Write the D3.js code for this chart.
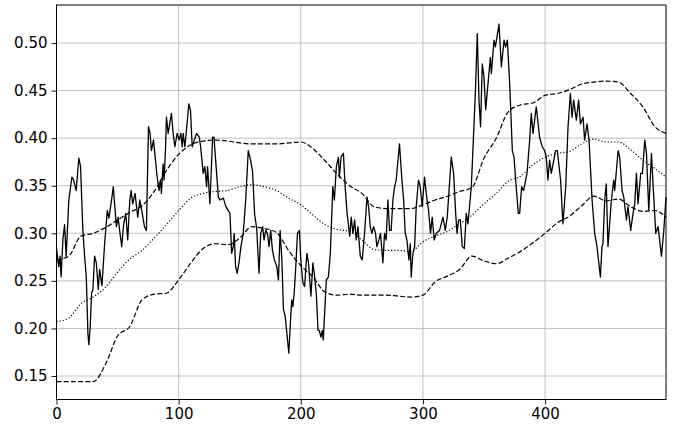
<!DOCTYPE html>
<html>
<head>
<meta charset="utf-8">
<script src="https://cdn.jsdelivr.net/npm/d3@7"></script>
<style>
  body { margin: 0; background: #fff; }
  svg { display: block; font-family: "DejaVu Sans", sans-serif; }
</style>
</head>
<body>
<div id="chart"></div>
<script>
const w = 680;
const h = 431;
const margin = { top: 5, right: 14, bottom: 31.5, left: 56.5 };

// noisy series: index positions and values
const seriesIdx = [
  0, 1.8, 2.9, 3.8, 5.2, 6.6, 7.9, 10.1, 12.6, 14.0, 16.1, 18.3, 19.7, 21.6, 23.0, 24.4, 25.7, 26.5, 27.6, 28.7,
  29.8, 31.2, 32.6, 34.2, 35.3, 37.2, 39.4, 41.6, 42.9, 45.4, 46.5, 49.0, 50.4, 51.7, 53.4, 55.0, 56.7, 58.3, 60.0, 61.1,
  62.4, 64.3, 66.5, 68.2, 69.8, 72.0, 73.6, 75.3, 76.6, 77.7, 79.4, 82.4, 84.0, 85.1, 85.9, 87.3, 88.1, 89.2, 90.0, 91.4,
  94.1, 95.5, 96.9, 98.8, 100.4, 101.8, 102.9, 103.7, 105.1, 108.4, 109.7, 111.1, 112.8, 114.7, 116.9, 118.0, 120.1, 121.5, 122.9, 123.7,
  125.6, 126.4, 127.8, 128.9, 131.1, 132.5, 133.8, 136.6, 138.7, 142.0, 143.4, 144.7, 145.5, 146.6, 148.0, 149.7, 151.0, 152.9, 154.9, 157.0,
  158.9, 160.5, 162.2, 163.9, 165.8, 167.2, 168.8, 169.9, 171.3, 172.7, 174.0, 175.4, 176.8, 178.4, 180.4, 181.7, 183.1, 184.5, 185.8, 187.2,
  188.6, 190.2, 191.6, 192.6, 193.5, 194.6, 195.9, 197.3, 198.9, 200.0, 201.7, 203.1, 205.0, 206.3, 208.3, 209.9, 211.3, 212.7, 214.1, 215.1,
  216.5, 217.6, 218.4, 220.9, 222.6, 224.2, 226.2, 227.5, 229.1, 230.8, 231.6, 233.0, 234.9, 236.3, 237.9, 240.1, 241.3, 242.7, 244.1, 245.4,
  246.8, 248.7, 250.3, 252.2, 254.2, 255.5, 256.9, 258.2, 259.6, 261.2, 262.3, 263.9, 265.3, 267.2, 268.6, 269.9, 271.3, 272.7, 274.0, 275.4,
  276.8, 278.1, 280.8, 282.8, 284.2, 285.5, 286.9, 288.5, 289.6, 290.4, 291.8, 293.2, 294.5, 296.4, 297.8, 299.4, 301.3, 302.7, 304.6, 306.2,
  307.6, 309.2, 310.9, 313.6, 316.4, 318.3, 319.9, 323.2, 325.1, 326.8, 327.9, 329.2, 330.6, 332.2, 333.9, 335.5, 336.9, 339.6, 341.5, 342.9,
  344.5, 345.9, 347.2, 348.6, 350.0, 351.4, 355.2, 356.0, 358.2, 359.3, 362.3, 364.2, 366.4, 367.7, 369.1, 371.0, 373.2, 374.6, 375.9, 378.1,
  379.2, 380.8, 382.4, 385.2, 387.4, 388.7, 390.1, 392.8, 395.5, 397.7, 399.6, 401.0, 402.3, 403.7, 405.1, 408.6, 410.0, 412.7, 414.6, 416.9,
  418.8, 420.7, 422.1, 423.4, 425.6, 427.5, 428.9, 431.1, 432.4, 434.4, 436.0, 438.5, 440.6, 442.5, 445.3, 446.6, 447.4, 448.8, 450.1, 451.5,
  454.3, 456.2, 457.0, 459.8, 461.1, 463.0, 464.4, 466.6, 467.9, 470.1, 472.0, 473.4, 474.8, 476.1, 478.3, 479.7, 481.6, 483.0, 484.9, 487.1,
  488.5, 490.6, 492.5, 495.3, 497.2, 499
];
const seriesVal = [
  0.284, 0.265, 0.276, 0.254, 0.293, 0.309, 0.276, 0.335, 0.359, 0.356, 0.345, 0.379, 0.370, 0.303, 0.276, 0.254, 0.195, 0.183, 0.202, 0.237,
  0.241, 0.276, 0.269, 0.241, 0.262, 0.245, 0.289, 0.324, 0.316, 0.338, 0.349, 0.307, 0.317, 0.303, 0.286, 0.310, 0.321, 0.293, 0.335, 0.345,
  0.331, 0.342, 0.317, 0.335, 0.324, 0.307, 0.303, 0.412, 0.405, 0.387, 0.398, 0.359, 0.345, 0.356, 0.342, 0.373, 0.356, 0.387, 0.422, 0.405,
  0.426, 0.405, 0.391, 0.405, 0.398, 0.405, 0.391, 0.405, 0.391, 0.436, 0.429, 0.391, 0.398, 0.405, 0.401, 0.391, 0.363, 0.370, 0.349, 0.370,
  0.331, 0.356, 0.401, 0.401, 0.363, 0.338, 0.335, 0.337, 0.328, 0.321, 0.279, 0.286, 0.300, 0.265, 0.258, 0.272, 0.286, 0.300, 0.335, 0.387,
  0.377, 0.365, 0.320, 0.305, 0.258, 0.300, 0.307, 0.293, 0.303, 0.300, 0.286, 0.303, 0.282, 0.272, 0.265, 0.251, 0.303, 0.272, 0.220, 0.213,
  0.195, 0.174, 0.209, 0.230, 0.223, 0.237, 0.265, 0.300, 0.303, 0.272, 0.248, 0.244, 0.279, 0.269, 0.234, 0.269, 0.255, 0.237, 0.198, 0.198,
  0.191, 0.198, 0.188, 0.251, 0.254, 0.279, 0.349, 0.335, 0.370, 0.380, 0.359, 0.380, 0.384, 0.349, 0.321, 0.297, 0.317, 0.300, 0.314, 0.293,
  0.307, 0.276, 0.272, 0.300, 0.338, 0.328, 0.307, 0.300, 0.307, 0.300, 0.286, 0.293, 0.300, 0.269, 0.300, 0.293, 0.335, 0.303, 0.303, 0.335,
  0.349, 0.356, 0.394, 0.356, 0.335, 0.300, 0.293, 0.272, 0.289, 0.254, 0.279, 0.286, 0.328, 0.356, 0.349, 0.328, 0.359, 0.342, 0.324, 0.300,
  0.317, 0.293, 0.300, 0.303, 0.317, 0.303, 0.317, 0.380, 0.363, 0.321, 0.300, 0.314, 0.314, 0.286, 0.284, 0.321, 0.310, 0.349, 0.405, 0.447,
  0.510, 0.440, 0.412, 0.478, 0.464, 0.430, 0.485, 0.468, 0.503, 0.496, 0.520, 0.475, 0.503, 0.496, 0.503, 0.458, 0.387, 0.380, 0.356, 0.321,
  0.321, 0.349, 0.345, 0.363, 0.398, 0.426, 0.405, 0.433, 0.401, 0.391, 0.387, 0.380, 0.356, 0.377, 0.363, 0.387, 0.387, 0.356, 0.310, 0.349,
  0.412, 0.447, 0.422, 0.440, 0.419, 0.440, 0.415, 0.422, 0.398, 0.415, 0.398, 0.335, 0.300, 0.286, 0.254, 0.286, 0.289, 0.335, 0.352, 0.286,
  0.335, 0.356, 0.345, 0.387, 0.380, 0.345, 0.338, 0.314, 0.328, 0.303, 0.321, 0.331, 0.363, 0.331, 0.363, 0.363, 0.398, 0.384, 0.324, 0.384,
  0.349, 0.300, 0.307, 0.276, 0.303, 0.338
];

// rolling band (upper / mean / lower) sampled every 10 steps
const bandIdx = [
  0, 10, 20, 30, 40, 50, 60, 70, 80, 90, 100, 110, 120, 130, 140, 150, 160, 170, 180, 190,
  200, 210, 220, 230, 240, 250, 260, 270, 280, 290, 300, 310, 320, 330, 340, 350, 360, 370, 380, 390,
  400, 410, 420, 430, 440, 450, 460, 470, 480, 490, 499
];
const upperVal = [
  0.272, 0.276, 0.297, 0.300, 0.306, 0.314, 0.322, 0.329, 0.344, 0.366, 0.383, 0.393, 0.397, 0.398, 0.397, 0.395, 0.394, 0.394, 0.394, 0.395,
  0.396, 0.389, 0.376, 0.362, 0.350, 0.342, 0.328, 0.326, 0.326, 0.326, 0.330, 0.335, 0.339, 0.344, 0.348, 0.379, 0.400, 0.428, 0.435, 0.437,
  0.445, 0.447, 0.451, 0.457, 0.459, 0.460, 0.459, 0.447, 0.433, 0.412, 0.405
];
const meanVal = [
  0.207, 0.211, 0.226, 0.233, 0.243, 0.259, 0.273, 0.282, 0.295, 0.309, 0.324, 0.337, 0.342, 0.344, 0.345, 0.349, 0.351, 0.349, 0.345, 0.337,
  0.330, 0.319, 0.309, 0.304, 0.302, 0.293, 0.283, 0.282, 0.282, 0.281, 0.291, 0.297, 0.302, 0.310, 0.319, 0.331, 0.342, 0.355, 0.360, 0.372,
  0.380, 0.384, 0.386, 0.394, 0.399, 0.396, 0.396, 0.388, 0.377, 0.368, 0.359
];
const lowerVal = [
  0.144, 0.144, 0.144, 0.144, 0.162, 0.192, 0.202, 0.230, 0.236, 0.237, 0.251, 0.269, 0.284, 0.289, 0.288, 0.295, 0.307, 0.305, 0.301, 0.282,
  0.266, 0.254, 0.238, 0.235, 0.236, 0.235, 0.235, 0.235, 0.234, 0.233, 0.235, 0.249, 0.255, 0.262, 0.276, 0.271, 0.268, 0.274, 0.281, 0.290,
  0.300, 0.311, 0.318, 0.329, 0.339, 0.334, 0.336, 0.328, 0.323, 0.324, 0.317
];

const xTicks = [0, 100, 200, 300, 400];
const yTicks = [0.15, 0.20, 0.25, 0.30, 0.35, 0.40, 0.45, 0.50];

const svg = d3.select("#chart").append("svg").attr("width", w).attr("height", h);

const x = d3.scaleLinear().domain([0, 499]).range([margin.left, w - margin.right]);
const y = d3.scaleLinear().domain([0.1253, 0.540]).range([h - margin.bottom, margin.top]);

// grid
svg.append("g")
  .selectAll("line.gx")
  .data(xTicks)
  .join("line")
  .attr("x1", (d) => x(d)).attr("x2", (d) => x(d))
  .attr("y1", margin.top).attr("y2", h - margin.bottom)
  .attr("stroke", "#b0b0b0").attr("stroke-width", 0.8);
svg.append("g")
  .selectAll("line.gy")
  .data(yTicks)
  .join("line")
  .attr("x1", margin.left).attr("x2", w - margin.right)
  .attr("y1", (d) => y(d)).attr("y2", (d) => y(d))
  .attr("stroke", "#b0b0b0").attr("stroke-width", 0.8);

const plot = svg.append("g");

const line = d3.line().x((d) => x(d[0])).y((d) => y(d[1]));

plot.append("path")
  .datum(seriesIdx.map((d, i) => [d, seriesVal[i]]))
  .attr("fill", "none").attr("stroke", "#000").attr("stroke-width", 1.3)
  .attr("stroke-linejoin", "round")
  .attr("d", line);

const bands = [
  { vals: upperVal, dash: "5,2.2" },
  { vals: meanVal, dash: "1.2,2" },
  { vals: lowerVal, dash: "5,2.2" },
];
bands.forEach((b) => {
  plot.append("path")
    .datum(bandIdx.map((d, i) => [d, b.vals[i]]))
    .attr("fill", "none").attr("stroke", "#000").attr("stroke-width", 1.2)
    .attr("stroke-dasharray", b.dash)
    .attr("d", line.curve(d3.curveMonotoneX));
  line.curve(d3.curveLinear);
});

// axes
const xAxis = d3.axisBottom(x).tickValues(xTicks).tickSize(5).tickPadding(4).tickFormat(d3.format("d"));
const yAxis = d3.axisLeft(y).tickValues(yTicks).tickSize(5).tickPadding(4).tickFormat(d3.format(".2f"));

svg.append("g").attr("transform", `translate(0,${h - margin.bottom})`).call(xAxis)
  .call((g) => g.select(".domain").remove());
svg.append("g").attr("transform", `translate(${margin.left},0)`).call(yAxis)
  .call((g) => g.select(".domain").remove());

svg.selectAll(".tick text").attr("font-size", 15).attr("font-family", "DejaVu Sans").attr("fill", "#000");
svg.selectAll(".tick line").attr("stroke", "#000").attr("stroke-width", 0.9);

// frame
svg.append("rect")
  .attr("x", margin.left).attr("y", margin.top)
  .attr("width", w - margin.right - margin.left)
  .attr("height", h - margin.bottom - margin.top)
  .attr("fill", "none").attr("stroke", "#000").attr("stroke-width", 1);
</script>
</body>
</html>
